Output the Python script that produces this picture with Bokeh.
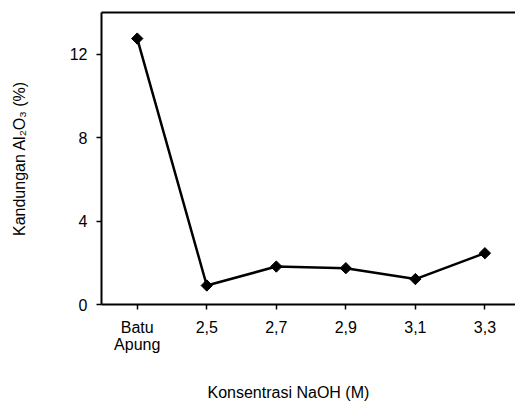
from bokeh.plotting import figure
from bokeh.models import Range1d, FixedTicker, LinearAxis, Title
from bokeh.embed import file_html
from bokeh.resources import INLINE
import numpy as np

# Data
categories = ["Batu\nApung", "2,5", "2,7", "2,9", "3,1", "3,3"]
alumina = [12.75, 0.91, 1.82, 1.74, 1.22, 2.46]
y_ticks = [0, 4, 8, 12]
x_title = "Konsentrasi NaOH (M)"
y_title = "Kandungan Al\u2082O\u2083 (%)"

xs = list(range(len(categories)))
FONT = "Liberation Sans"
FS = "16px"

p = figure(width=515, height=401, output_backend="svg", toolbar_location=None,
           x_range=Range1d(-0.514, 5.44), y_range=Range1d(0, 14),
           min_border_left=101, min_border_right=0, min_border_top=12,
           min_border_bottom=97)
p.outline_line_color = None
p.grid.visible = False
p.background_fill_color = "white"
p.border_fill_color = "white"

p.line(xs, alumina, line_color="black", line_width=2.5)
p.scatter(xs, alumina, marker="square", angle=np.pi / 4, size=8,
          fill_color="black", line_color="black")

# x axis
xa = p.xaxis[0]
xa.ticker = FixedTicker(ticks=xs)
xa.major_label_overrides = {i: c for i, c in enumerate(categories)}
xa.minor_tick_line_color = None
xa.major_tick_in = 0
xa.major_tick_out = 5
xa.major_tick_line_width = 1.5
xa.axis_line_width = 2
xa.major_label_text_font = FONT
xa.major_label_text_font_size = FS
xa.major_label_text_color = "black"
xa.major_label_standoff = 9
xa.major_label_text_line_height = 1.0

# y axis
ya = p.yaxis[0]
ya.ticker = FixedTicker(ticks=y_ticks)
ya.minor_tick_line_color = None
ya.major_tick_in = 0
ya.major_tick_out = 5
ya.major_tick_line_width = 1.5
ya.axis_line_width = 2
ya.major_label_text_font = FONT
ya.major_label_text_font_size = FS
ya.major_label_text_color = "black"
ya.major_label_standoff = 9
ya.axis_label = y_title
ya.axis_label_text_font = FONT
ya.axis_label_text_font_size = FS
ya.axis_label_text_font_style = "normal"
ya.axis_label_text_color = "black"
ya.axis_label_standoff = 39

# top border
top = LinearAxis(ticker=FixedTicker(ticks=[]), axis_line_width=2,
                 major_tick_out=0, major_tick_in=0, minor_tick_out=0,
                 minor_tick_in=0, major_label_text_font_size="0px")
p.add_layout(top, "above")

# invisible spacer between the x axis and its title (white tick on white)
spacer = LinearAxis(ticker=FixedTicker(ticks=[-0.5]), axis_line_color=None,
                    major_tick_line_color="white", minor_tick_line_color=None,
                    major_tick_out=26, major_tick_in=0, minor_tick_out=0,
                    minor_tick_in=0, major_label_standoff=0,
                    major_label_overrides={-0.5: ""},
                    major_label_text_font_size="0px")
p.add_layout(spacer, "below")

# x title
p.add_layout(Title(text=x_title, align="left", offset=106, standoff=0,
                   text_font=FONT, text_font_size=FS,
                   text_font_style="normal", text_color="black"), "below")

open("out.html", "w").write(file_html(p, INLINE))
